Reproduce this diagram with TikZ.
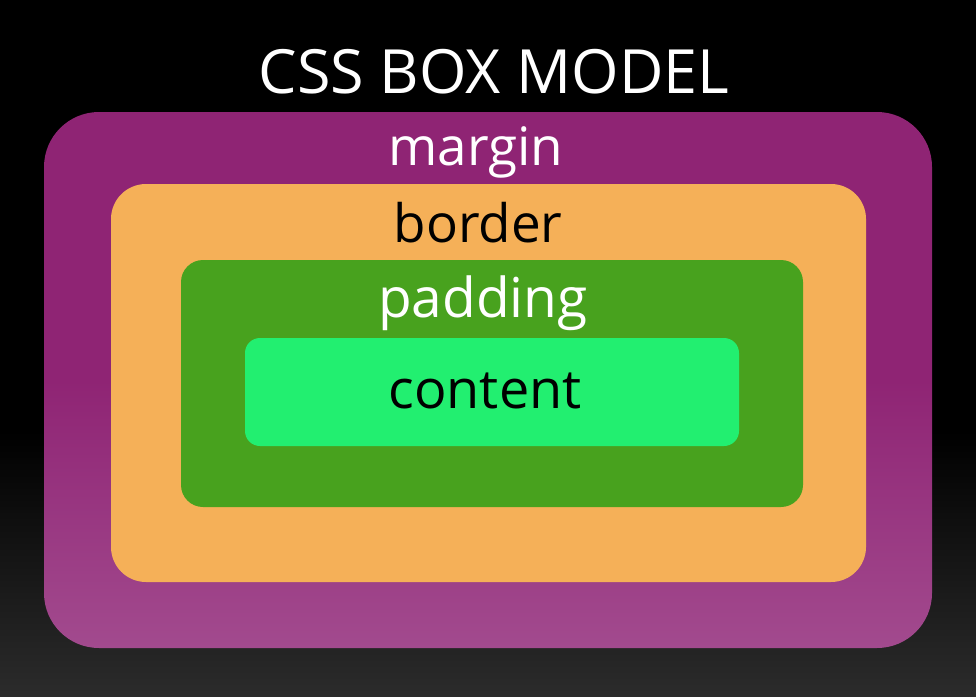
\documentclass[tikz,border=0pt]{standalone}
\usepackage{fontspec}
\setmainfont{Open Sans}
\begin{document}
\begin{tikzpicture}[x=1pt,y=-1pt,
  layer/.style={rectangle, inner sep=0pt, draw=none},
  lbl/.style={font=\fontsize{53}{53}\selectfont, inner sep=0pt, anchor=base}]
\useasboundingbox (0,0) rectangle (976,696);
\fill[black] (0,0) rectangle (976,696);
\shade[top color=black, bottom color=black!83!white] (0,430) rectangle (976,696);
\node[layer, minimum width=888pt, minimum height=536pt, rounded corners=55pt,
  top color={rgb,255:red,143;green,36;blue,116}, bottom color={rgb,255:red,162;green,74;blue,142},
  middle color={rgb,255:red,143;green,36;blue,116}] (margin) at (488,380) {};
\node[layer, minimum width=755pt, minimum height=398pt, rounded corners=35pt,
  fill={rgb,255:red,245;green,176;blue,88}] (border) at (488.5,383) {};
\node[layer, minimum width=622pt, minimum height=247pt, rounded corners=22pt,
  fill={rgb,255:red,72;green,162;blue,30}] (padding) at (492,383.5) {};
\node[layer, minimum width=494pt, minimum height=108pt, rounded corners=15pt,
  fill={rgb,255:red,34;green,239;blue,112}] (content) at (492,392) {};
\node[lbl, white, font=\fontsize{61}{61}\selectfont] (title) at (494,93) {CSS BOX MODEL};
\node[lbl, white] (tmargin) at (476,165) {margin};
\node[lbl, black] (tborder) at (478,242) {border};
\node[lbl, white, font=\fontsize{55}{55}\selectfont] (tpadding) at (483,317) {padding};
\node[lbl, black, font=\fontsize{54}{54}\selectfont] (tcontent) at (485,408) {content};
\end{tikzpicture}
\end{document}
